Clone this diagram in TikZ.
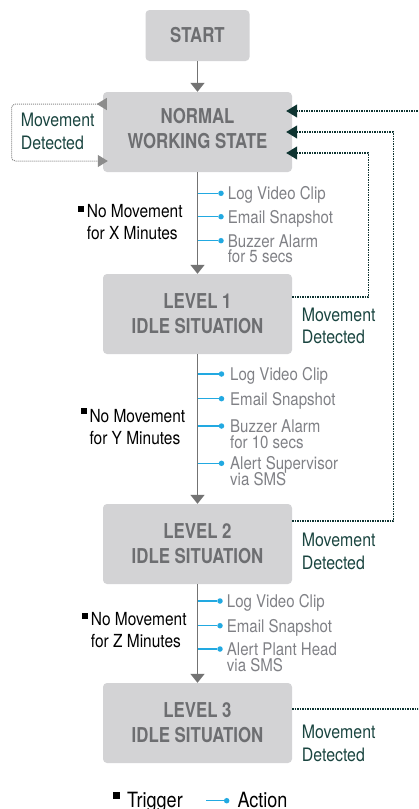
\documentclass[tikz,border=0pt]{standalone}
\usepackage{fontspec}
\setmainfont{TeX Gyre Heros}[FakeStretch=0.86]
\newfontfamily\boxfont{TeX Gyre Heros}[FakeStretch=0.82]
\usetikzlibrary{arrows.meta}
\definecolor{boxgray}{HTML}{D3D3D5}
\definecolor{boxtext}{HTML}{6D6E71}
\definecolor{flowgray}{HTML}{737373}
\definecolor{actblue}{HTML}{22A9E1}
\definecolor{acttextc}{HTML}{808186}
\definecolor{movc}{HTML}{1A4540}
\definecolor{retc}{HTML}{0E3431}
\definecolor{loopgray}{HTML}{8C8C8C}
\newcommand\tstr{\rule{0pt}{15pt}}
\newcommand\nolskip{\lineskiplimit=-20pt\relax}
\newcommand\actitem[5]{%
  \coordinate (#1s) at (197.5,#2);
  \node[actdot] (#1d) at (#3,#2) {};
  \draw[actline] (#1s) -- (#1d);
  \node[acttext] (#1t) at (#4,#2-8.7) {\tstr #5};}
\begin{document}
\begin{tikzpicture}[x=1pt,y=-1pt,
  state/.style={fill=boxgray, rounded corners=4pt, minimum width=189pt, minimum height=80pt, inner sep=0pt, align=center, text=boxtext, font={\boxfont\bfseries\fontsize{20.5}{25}\selectfont}},
  flow/.style={draw=flowgray, line width=1.5pt, -{Triangle[length=9pt,width=14pt]}},
  actline/.style={draw=actblue, line width=1.5pt},
  actdot/.style={circle, fill=actblue, inner sep=0pt, minimum size=5.5pt},
  acttext/.style={anchor=north west, inner sep=0pt, align=left, text=acttextc, font={\fontsize{17.5}{15.6}\selectfont\nolskip}},
  trigtext/.style={anchor=north west, inner sep=0pt, align=left, text=black, font={\fontsize{18}{22}\selectfont\nolskip}},
  legtext/.style={anchor=north west, inner sep=0pt, text=black, font={\fontsize{21}{24}\selectfont}},
  movtext/.style={anchor=north west, inner sep=0pt, align=left, text=movc, font={\fontsize{18.5}{22.5}\selectfont\nolskip}},
  ret/.style={draw=retc, line width=1.3pt, dash pattern=on 1.3pt off 1.2pt, -{Triangle[length=11pt,width=13pt]}},
  selfloop/.style={draw=loopgray, line width=1pt, dash pattern=on 1pt off 1pt, rounded corners=4pt}
]
\useasboundingbox (0,0) rectangle (418,809);
\clip (0,0) rectangle (418,809);

% states
\node[state, minimum width=104pt, minimum height=51pt] (S) at (197.5,35.5) {START};
\node[state, text depth=7pt] (N) at (197.5,132) {NORMAL\\WORKING STATE};
\node[state] (L1) at (197.5,314) {LEVEL 1\\IDLE SITUATION};
\node[state] (L2) at (197.5,544) {LEVEL 2\\IDLE SITUATION};
\node[state] (L3) at (197.5,723) {LEVEL 3\\IDLE SITUATION};

% flow
\draw[flow] (S) -- (N);
\draw[flow] (N) -- (L1);
\draw[flow] (L1) -- (L2);
\draw[flow] (L2) -- (L3);

% self loop on normal state
\draw[selfloop, {Triangle[reversed,length=10pt,width=12pt]}-{Triangle[length=10pt,width=12pt]}]
  ([xshift=4pt,yshift=28pt]N.west) -- ++(-95.3,0) |- ([xshift=5pt,yshift=-29pt]N.west);
\node[movtext] (m0) at (20.7,111.7) {\tstr Movement\\Detected};

% return connectors
\draw[ret] ([yshift=17pt]L1.east) -- ++(76,0) |- ([xshift=-6pt,yshift=-21pt]N.east);
\draw[ret] ([yshift=23pt]L2.east) -- ++(101,0) |- ([xshift=-6pt]N.east);
\draw[ret] ([yshift=14pt]L3.east) -- ++(140,0) |- ([xshift=-6pt,yshift=21pt]N.east);
\node[movtext] (m1) at (301.7,306) {\tstr Movement\\Detected};
\node[movtext] (m2) at (301.7,531.5) {\tstr Movement\\Detected};
\node[movtext] (m3) at (301.7,723.5) {\tstr Movement\\Detected};

% group 1
\fill (78.3,205.7) rectangle ++(6,6);
\node[trigtext] (g1) at (86.7,202.7) {\tstr No Movement\\for X Minutes};
\actitem{a11}{193.3}{221}{227.7}{Log Video Clip}
\actitem{a12}{216.7}{221}{227.7}{Email Snapshot}
\actitem{a13}{240.7}{221}{227.7}{Buzzer Alarm\\for 5 secs}

% group 2
\fill (81,408.3) rectangle ++(6,6);
\node[trigtext] (g2) at (89.3,407.3) {\tstr No Movement\\for Y Minutes};
\actitem{a21}{374}{221.5}{230}{Log Video Clip}
\actitem{a22}{398.7}{221.5}{230}{Email Snapshot}
\actitem{a23}{426}{221.5}{230}{Buzzer Alarm\\for 10 secs}
\actitem{a24}{463.3}{221.5}{230}{Alert Supervisor\\via SMS}

% group 3
\fill (82.3,613.3) rectangle ++(6,6);
\node[trigtext] (g3) at (90.7,610.7) {\tstr No Movement\\for Z Minutes};
\actitem{a31}{601}{220}{226.7}{Log Video Clip}
\actitem{a32}{625.7}{220}{226.7}{Email Snapshot}
\actitem{a33}{649}{220}{226.7}{Alert Plant Head\\via SMS}

% legend
\fill (113.3,792.3) rectangle ++(7,7);
\node[legtext] (lt) at (127,792) {\tstr Trigger};
\coordinate (la) at (206,800.7);
\node[actdot] (ld) at (226.7,800.7) {};
\draw[actline] (la) -- (ld);
\node[legtext] (lat) at (237.3,792) {\tstr Action};
\end{tikzpicture}
\end{document}
